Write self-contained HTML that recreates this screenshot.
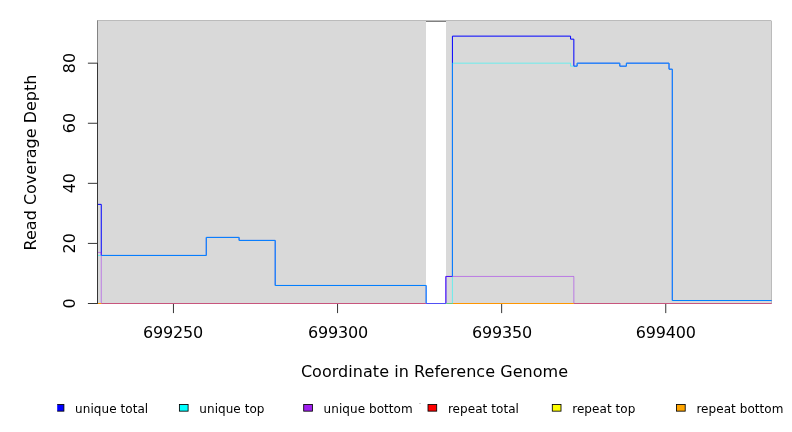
<!DOCTYPE html>
<html lang="en">
<head>
<meta charset="utf-8">
<title>Read Coverage Depth</title>
<style>
  html, body { margin: 0; padding: 0; background: #ffffff; }
  body { width: 792px; height: 432px; overflow: hidden; }
  svg { display: block; }
  text { font-family: "DejaVu Sans", "Liberation Sans", sans-serif; fill: #000000; }
  svg { will-change: transform; }
  .ax { font-size: 16px; }
  .lg { font-size: 12px; }
</style>
</head>
<body>
<svg width="792" height="432" viewBox="0 0 792 432">
  <defs>
    <clipPath id="legclip"><rect x="57.2" y="395" width="735" height="37"/></clipPath>
  </defs>
  <rect x="0" y="0" width="792" height="432" fill="#ffffff"/>

  <!-- plot background -->
  <rect x="97" y="20" width="675" height="284" fill="#d9d9d9"/>
  <path d="M97,20.5 H771 M771.5,21 V304" fill="none" stroke="#bbbbbb" stroke-width="1"/>
  <rect x="771" y="20" width="1" height="1" fill="#e4e4e4"/>
  <!-- gap -->
  <rect x="426" y="21" width="20" height="283" fill="#ffffff"/>
  <line x1="426" y1="21.5" x2="446" y2="21.5" stroke="#808080" stroke-width="1"/>

  <!-- series -->
  <g fill="none" stroke-width="1" stroke-linejoin="miter" stroke-linecap="butt">
    <!-- unique total -->
    <path d="M97.5,204.37 H101.25 V255.44 H206.27 V237.41 H239.09 V240.42 H275.19 V285.48 H426.16 V303.5 H445.86 V276.46 H452.42 V36.14 H570.57 V39.15 H573.85 V66.18 H577.14 V63.18 H619.8 V66.18 H626.37 V63.18 H669.03 V69.19 H672.31 V300.5 H771.5" stroke="#0000ff"/>
    <!-- unique top -->
    <path d="M97.5,255.44 H206.27 V237.41 H239.09 V240.42 H275.19 V285.48 H426.16 V303.5 H452.42 V63.18 H570.57 V66.18 H577.14 V63.18 H619.8 V66.18 H626.37 V63.18 H669.03 V69.19 H672.31 V300.5 H771.5" stroke="#00ffff" stroke-opacity="0.5"/>
    <!-- unique bottom -->
    <path d="M97.5,252.43 H101.25 V303.5 H445.86 V276.46 H573.85 V303.5 H771.5" stroke="#a020f0" stroke-opacity="0.5"/>
    <!-- zero baseline: repeat total / repeat top / repeat bottom -->
    <path d="M101.3,303.5 H425.66" stroke="#c8557d"/>
    <path d="M98,303.5 H101.3" stroke="#ff9a00"/>
    <path d="M573.85,303.5 H771.5" stroke="#c8557d"/>
    <path d="M446.36,303.5 H452.92" stroke="#6ec87d"/>
    <path d="M452.92,303.5 H573.85" stroke="#ff9600"/>
  </g>

  <!-- axes -->
  <g stroke="#363636" stroke-width="1" fill="none">
    <path d="M97.5,20.5 V62.7" stroke="#838383"/>
    <path d="M97.5,62.68 V304"/>
    <path d="M87.9,303.5 H97.5 M87.9,243.42 H97.5 M87.9,183.34 H97.5 M87.9,123.26 H97.5 M87.9,63.18 H97.5"/>
    <path d="M173.45,304 V313.1 M337.55,304 V313.1 M501.65,304 V313.1 M665.75,304 V313.1"/>
  </g>

  <!-- x tick labels -->
  <g class="ax" text-anchor="middle" id="xl">
    <text x="173.0" y="337.6" letter-spacing="-0.18">699250</text>
    <text x="337.9" y="337.6" letter-spacing="-0.18">699300</text>
    <text x="501.95" y="337.6" letter-spacing="-0.18">699350</text>
    <text x="665.7" y="337.6" letter-spacing="-0.18">699400</text>
    <text x="434.5" y="376.5" letter-spacing="0.05">Coordinate in Reference Genome</text>
  </g>

  <!-- y tick labels -->
  <g class="ax" text-anchor="middle">
    <text transform="translate(75.4,303.35) rotate(-90)">0</text>
    <text transform="translate(75.4,243.27) rotate(-90)">20</text>
    <text transform="translate(75.4,183.19) rotate(-90)">40</text>
    <text transform="translate(75.4,123.11) rotate(-90)">60</text>
    <text transform="translate(75.4,63.03) rotate(-90)">80</text>
    <text transform="translate(36.05,162.5) rotate(-90)">Read Coverage Depth</text>
  </g>

  <!-- legend -->
  <g clip-path="url(#legclip)" stroke="#000000" stroke-width="0.85">
    <rect x="55.2" y="404.55" width="8.7" height="6.6" fill="#0000ff"/>
    <rect x="179.4" y="404.55" width="8.7" height="6.6" fill="#00ffff"/>
    <rect x="303.7" y="404.55" width="8.7" height="6.6" fill="#a020f0"/>
    <rect x="428" y="404.55" width="8.7" height="6.6" fill="#ff0000"/>
    <rect x="552.3" y="404.55" width="8.7" height="6.6" fill="#ffff00"/>
    <rect x="676.5" y="404.55" width="8.7" height="6.6" fill="#ffa500"/>
  </g>
  <rect x="419" y="403" width="2" height="1" fill="#cfcfcf"/>
  <g class="lg" letter-spacing="0.06">
    <text x="75.1" y="412.8">unique total</text>
    <text x="199.3" y="412.8">unique top</text>
    <text x="323.6" y="412.8">unique bottom</text>
    <text x="447.9" y="412.8">repeat total</text>
    <text x="572.2" y="412.8">repeat top</text>
    <text x="696.4" y="412.8">repeat bottom</text>
  </g>
</svg>
</body>
</html>
